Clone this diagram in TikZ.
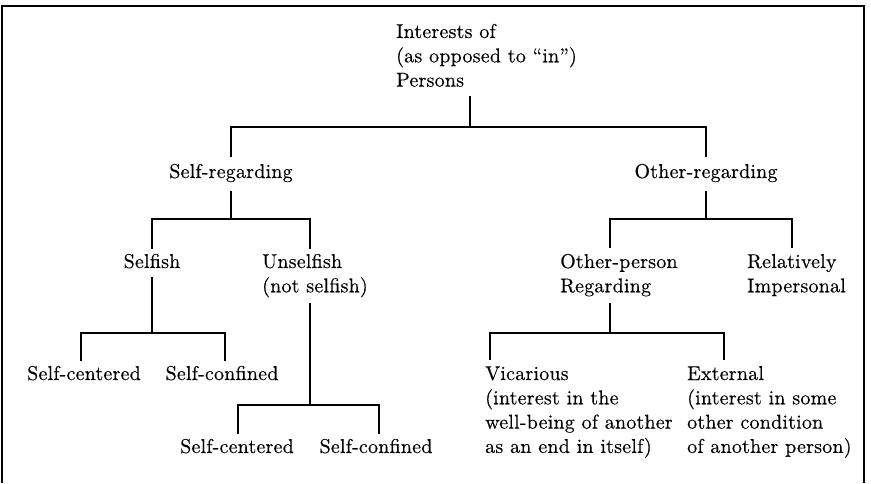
\documentclass[tikz,border=0pt]{standalone}
\usepackage{fontspec}
\setmainfont{lmroman10-regular.otf}[FakeBold=0.3, LetterSpace=1]
\usepackage{tikz}
\begin{document}
\begin{tikzpicture}[x=1pt,y=-1pt,
    lbl/.style={inner sep=0pt, font=\fontsize{20}{24.3}\selectfont},
    lblL/.style={lbl, align=left, anchor=base west},
    lblC/.style={lbl, align=center, anchor=base},
    link/.style={line width=1.8pt, line cap=rect},
    frame/.style={line width=1.8pt}]
\useasboundingbox (0,0) rectangle (871,483);

% open frame: top rule and two sides
\draw[frame] (2,483) -- (2,6) -- (864,6) -- (864,483);

% labels (multi-line labels are placed by the baseline of their last line)
\node[lblL] (root) at (396,86.6) {Interests of\\(as opposed to ``in'')\\Persons};
\node[lblC] (selfreg) at (231,178) {Self-regarding};
\node[lblC] (otherreg) at (706,178) {Other-regarding};
\node[lblC] (selfish) at (152,268) {Selfish};
\node[lblL] (unselfish) at (262,292.3) {Unselfish\\(not selfish)};
\node[lblL] (operson) at (560,292.3) {Other-person\\Regarding};
\node[lblL] (imperson) at (747,292.3) {Relatively\\Impersonal};
\node[lblC] (centA) at (84,380) {Self-centered};
\node[lblC] (confA) at (222,380) {Self-confined};
\node[lblC] (centB) at (237,453) {Self-centered};
\node[lblC] (confB) at (376,453) {Self-confined};
\node[lblL] (vicar) at (485,452.9) {Vicarious\\(interest in the\\well-being of another\\as an end in itself)};
\node[lblL] (extern) at (687,452.9) {External\\(interest in some\\other condition\\of another person)};

% junction points of the tree
\coordinate (rootS) at (470,97);   \coordinate (rootJ) at (470,127);
\coordinate (selfregT) at (231,156); \coordinate (otherregT) at (706,156);

\coordinate (selfregS) at (231,192); \coordinate (selfregJ) at (231,219);
\coordinate (selfishT) at (152,248); \coordinate (unselfishT) at (310,248);

\coordinate (otherregS) at (706,192); \coordinate (otherregJ) at (706,219);
\coordinate (opersonT) at (610,247); \coordinate (impersonT) at (792,247);

\coordinate (selfishS) at (152,278); \coordinate (selfishJ) at (152,333);
\coordinate (centAT) at (81,360); \coordinate (confAT) at (225,360);

\coordinate (unselfishS) at (310,304); \coordinate (unselfishJ) at (310,405);
\coordinate (centBT) at (238,433); \coordinate (confBT) at (379,433);

\coordinate (opersonS) at (610,304); \coordinate (opersonJ) at (610,333);
\coordinate (vicarT) at (490,359); \coordinate (externT) at (724,359);

% connectors
\foreach \p/\a/\b in {root/selfreg/otherreg, selfreg/selfish/unselfish,
    otherreg/operson/imperson, selfish/centA/confA,
    unselfish/centB/confB, operson/vicar/extern}{
  \draw[link] (\p S) -- (\p J);
  \draw[link] (\a T) |- (\p J) -| (\b T);
}
\end{tikzpicture}
\end{document}
